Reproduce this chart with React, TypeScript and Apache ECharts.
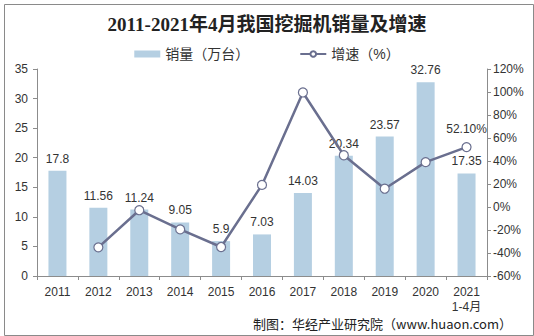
import React, { useEffect, useRef } from "react";
import * as echarts from "echarts";

const categories = ["2011", "2012", "2013", "2014", "2015", "2016", "2017", "2018", "2019", "2020", "2021\n1-4月"];
const salesValues = [17.8, 11.56, 11.24, 9.05, 5.9, 7.03, 14.03, 20.34, 23.57, 32.76, 17.35];
const growthValues: (number | null)[] = [null, -35.1, -2.8, -19.5, -34.8, 19.2, 99.6, 45.0, 15.9, 39.0, 52.1];
const leftTicks = { min: 0, max: 35, interval: 5 };
const rightTicks = { min: -60, max: 120, interval: 20 };

const SANS = "'Liberation Sans', Arial, 'Noto Sans CJK SC', sans-serif";

export default function App() {
  const ref = useRef<HTMLDivElement>(null);
  useEffect(() => {
    if (!ref.current) return;
    const chart = echarts.init(ref.current, null, { renderer: "svg" });
    const axisLine = { show: true, lineStyle: { color: "#8c8c8c", width: 1 } };
    chart.setOption({
      animation: false,
      backgroundColor: "#ffffff",
      title: {
        text: "2011-2021年4月我国挖掘机销量及增速",
        left: "center",
        top: 10,
        textStyle: {
          fontFamily: "'Liberation Serif', 'Noto Sans CJK SC', serif",
          fontWeight: "bold",
          fontSize: 19,
          color: "#222222",
        },
      },
      legend: {
        top: 42,
        left: "center",
        itemGap: 50,
        itemWidth: 26,
        itemHeight: 7,
        textStyle: { fontFamily: SANS, fontSize: 14, color: "#333" },
        data: [
          { name: "销量（万台）", icon: "rect" },
          { name: "增速（%）" },
        ],
      },
      grid: { left: 37, right: 47, top: 69, bottom: 60, containLabel: false },
      xAxis: {
        type: "category",
        data: categories,
        axisLine,
        axisTick: { show: true, length: 4, lineStyle: { color: "#8c8c8c" } },
        axisLabel: { fontFamily: SANS, fontSize: 12, color: "#333", margin: 8, lineHeight: 15, interval: 0 },
      },
      yAxis: [
        {
          type: "value",
          min: leftTicks.min,
          max: leftTicks.max,
          interval: leftTicks.interval,
          axisLine,
          axisTick: { show: true, length: 4, lineStyle: { color: "#8c8c8c" } },
          splitLine: { show: false },
          axisLabel: { fontFamily: SANS, fontSize: 12, color: "#333", margin: 9 },
        },
        {
          type: "value",
          min: rightTicks.min,
          max: rightTicks.max,
          interval: rightTicks.interval,
          axisLine,
          axisTick: { show: true, length: 4, lineStyle: { color: "#8c8c8c" } },
          splitLine: { show: false },
          axisLabel: { fontFamily: SANS, fontSize: 12, color: "#333", margin: 6, formatter: "{value}%" },
        },
      ],
      series: [
        {
          name: "销量（万台）",
          type: "bar",
          data: salesValues,
          barWidth: "44%",
          itemStyle: { color: "#b5cfe2" },
          label: {
            show: true,
            position: "top",
            distance: 6,
            fontFamily: SANS,
            fontSize: 12,
            color: "#333",
          },
        },
        {
          name: "增速（%）",
          type: "line",
          yAxisIndex: 1,
          data: growthValues,
          symbol: "circle",
          symbolSize: 9,
          lineStyle: { color: "#6a6f8f", width: 2.5 },
          itemStyle: { color: "#ffffff", borderColor: "#6a6f8f", borderWidth: 1.2 },
          label: {
            show: true,
            position: "top",
            distance: 7,
            fontFamily: SANS,
            fontSize: 12,
            color: "#333",
            formatter: (p: any) => (p.dataIndex === growthValues.length - 1 ? p.value.toFixed(2) + "%" : ""),
          },
        },
      ],
      graphic: [
        {
          type: "rect",
          left: 2,
          top: 2,
          shape: { width: 529, height: 331 },
          style: { fill: "none", stroke: "#8a8a8a", lineWidth: 1 },
          silent: true,
          z: 100,
        },
        {
          type: "text",
          right: 22,
          top: 316,
          style: { text: "制图：华经产业研究院（www.huaon.com）", fontSize: 13, lineHeight: 14, fontFamily: "'Noto Sans CJK SC', " + SANS, fill: "#222" },
        },
      ],
    });
    return () => chart.dispose();
  }, []);
  return (
    <div
      ref={ref}
      style={{ width: 534, height: 336, position: "absolute", left: 0, top: 0 }}
    />
  );
}
